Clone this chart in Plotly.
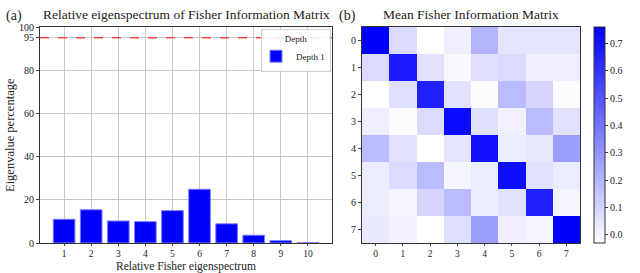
import plotly.graph_objects as go

# Data
eig_idx = [1, 2, 3, 4, 5, 6, 7, 8, 9, 10]
eig_pct = [11.0, 15.4, 10.2, 9.9, 15.0, 24.9, 8.9, 3.6, 1.1, 0.1]
threshold = 95
y_ticks = [0, 20, 40, 60, 80, 95, 100]

fim_labels = [0, 1, 2, 3, 4, 5, 6, 7]
fim = [
    [0.76, 0.08, -0.03, 0.02, 0.20, 0.05, 0.05, 0.05],
    [0.08, 0.68, 0.06, -0.01, 0.07, 0.08, 0.02, 0.02],
    [-0.03, 0.07, 0.66, 0.06, -0.02, 0.18, 0.10, -0.02],
    [0.02, -0.02, 0.08, 0.73, 0.07, 0.01, 0.18, 0.06],
    [0.18, 0.06, -0.03, 0.05, 0.71, 0.03, 0.04, 0.27],
    [0.03, 0.08, 0.18, 0.00, 0.03, 0.72, 0.06, 0.03],
    [0.03, 0.00, 0.10, 0.18, 0.03, 0.06, 0.66, 0.00],
    [0.04, 0.01, -0.03, 0.07, 0.27, 0.02, 0.00, 0.76],
]
cbar_ticks = [0.0, 0.1, 0.2, 0.3, 0.4, 0.5, 0.6, 0.7]

FONT = "Liberation Serif"
Y0, Y1 = 1 - 243 / 273, 1 - 27 / 273

fig = go.Figure()
fig.add_trace(go.Bar(
    x=eig_idx, y=eig_pct, width=0.8, name="Depth 1",
    marker=dict(color="#0000ff", line=dict(color="#7f7fff", width=1)),
    xaxis="x", yaxis="y", showlegend=True,
))
fig.add_trace(go.Heatmap(
    z=fim, x=fim_labels, y=fim_labels, xaxis="x2", yaxis="y2",
    colorscale=[[0, "#ffffff"], [1, "#0000ff"]], showlegend=False,
    colorbar=dict(
        x=594 / 640, xanchor="left", xpad=0, ypad=0, thickness=11, thicknessmode="pixels",
        y=Y0, yanchor="bottom", len=Y1 - Y0, lenmode="fraction",
        outlinecolor="#333", outlinewidth=1, tickvals=cbar_ticks,
        ticktext=[f"{v:.1f}" for v in cbar_ticks], ticks="outside", ticklen=3,
        tickfont=dict(family=FONT, size=10, color="#222"),
    ),
))

axis_common = dict(ticks="outside", showline=True, linecolor="#333", mirror=True,
                   zeroline=False, automargin=False)

fig.update_layout(
    width=640, height=273, margin=dict(l=0, r=0, t=0, b=0, autoexpand=False),
    plot_bgcolor="white", paper_bgcolor="white",
    font=dict(family=FONT, color="#222"),
    xaxis=dict(domain=[40 / 640, 332 / 640], range=[0.11, 10.89], tickvals=eig_idx,
               showgrid=True, gridcolor="#c8c8c8", gridwidth=1, ticklen=2,
               tickfont=dict(size=9.5), **axis_common),
    yaxis=dict(domain=[Y0, Y1], range=[0, 100], tickvals=y_ticks,
               showgrid=True, gridcolor="#c8c8c8", gridwidth=1, ticklen=3,
               tickfont=dict(size=10), **axis_common),
    xaxis2=dict(domain=[362 / 640, 580 / 640], anchor="y2", tickvals=fim_labels,
                showgrid=False, ticklen=2, tickfont=dict(size=9.5), **axis_common),
    yaxis2=dict(domain=[Y0, Y1], anchor="x2", tickvals=fim_labels, autorange="reversed",
                showgrid=False, ticklen=3, tickfont=dict(size=10), **axis_common),
    legend=dict(x=331 / 640, xanchor="right", y=1 - 29 / 273, yanchor="top",
                bgcolor="rgba(255,255,255,0.85)", bordercolor="#d0d0d0", borderwidth=1,
                title=dict(text="Depth", side="top center", font=dict(size=9)),
                font=dict(size=9), itemwidth=30, tracegroupgap=0,
                indentation=-6),
    shapes=[dict(type="line", xref="x domain", yref="y", x0=0, x1=1, y0=threshold, y1=threshold,
                 layer="above", line=dict(color="red", width=1, dash="dash"))],
    annotations=[
        dict(text="Relative eigenspectrum of Fisher Information Matrix", x=186 / 640, y=1 - 14 / 273,
             xref="paper", yref="paper", showarrow=False, font=dict(size=13.5), xanchor="center", yanchor="middle"),
        dict(text="Mean Fisher Information Matrix", x=471 / 640, y=1 - 14 / 273,
             xref="paper", yref="paper", showarrow=False, font=dict(size=13.5), xanchor="center", yanchor="middle"),
        dict(text="(a)", x=4 / 640, y=1 - 16 / 273, xref="paper", yref="paper", showarrow=False,
             font=dict(size=14), xanchor="left", yanchor="middle"),
        dict(text="(b)", x=337 / 640, y=1 - 16 / 273, xref="paper", yref="paper", showarrow=False,
             font=dict(size=14), xanchor="left", yanchor="middle"),
        dict(text="Relative Fisher eigenspectrum", x=186 / 640, y=0, yshift=-1, borderpad=0,
             xref="paper", yref="paper", showarrow=False, font=dict(size=11.5),
             xanchor="center", yanchor="bottom"),
        dict(text="Eigenvalue percentage", x=10 / 640, y=(Y0 + Y1) / 2, textangle=-90,
             xref="paper", yref="paper", showarrow=False, font=dict(size=12.5),
             xanchor="center", yanchor="middle"),
    ],
)

fig.write_html("out.html", config={"displayModeBar": False},
               post_script="document.body.style.margin='0';")
